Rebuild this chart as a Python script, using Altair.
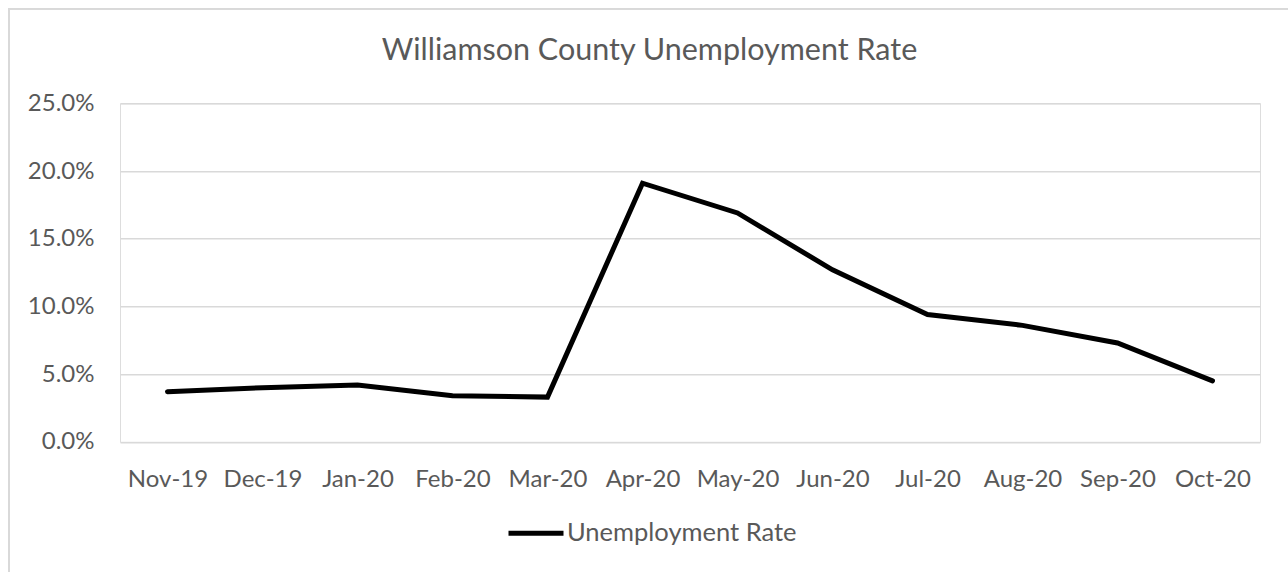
import altair as alt
import pandas as pd

months = ["Nov-19", "Dec-19", "Jan-20", "Feb-20", "Mar-20", "Apr-20",
          "May-20", "Jun-20", "Jul-20", "Aug-20", "Sep-20", "Oct-20"]
rates = [0.037, 0.040, 0.042, 0.034, 0.033, 0.191,
         0.169, 0.127, 0.094, 0.086, 0.073, 0.045]
series_name = "Unemployment Rate"
title_text = "Williamson County Unemployment Rate"
y_ticks = [0, 0.05, 0.10, 0.15, 0.20, 0.25]

df = pd.DataFrame({"Month": months, "Rate": rates, "Series": [series_name] * len(months)})

FONT = "Lato"
GRAY = "#595959"
W, H = 1140, 338.5

line = alt.Chart(df).mark_line(strokeWidth=5, strokeCap="round").encode(
    x=alt.X("Month:N", sort=months,
            scale=alt.Scale(type="point", padding=0.5),
            axis=alt.Axis(title=None, labelAngle=0, domain=False, ticks=False,
                          grid=False, labelPadding=26, labelFontSize=24,
                          labelFont=FONT, labelColor=GRAY)),
    y=alt.Y("Rate:Q", scale=alt.Scale(domain=[0, 0.25], nice=False),
            axis=alt.Axis(title=None, values=y_ticks, format=".1%", domain=False,
                          ticks=False, labelPadding=26, labelFontSize=24,
                          labelFont=FONT, labelColor=GRAY,
                          gridColor="#d9d9d9", gridWidth=1.5)),
    color=alt.Color("Series:N", scale=alt.Scale(range=["#000000"]),
                    legend=alt.Legend(title=None, orient="none", legendX=386, legendY=400,
                                      symbolType="stroke", symbolSize=3025,
                                      symbolStrokeWidth=5, labelFontSize=25.5,
                                      labelFont=FONT, labelColor=GRAY, labelLimit=600,
                                      labelOffset=1, padding=0)),
)

frame = alt.Chart(df).mark_rect(fillOpacity=0, stroke="#d9d9d9", strokeWidth=1.5).encode(
    x=alt.value(-111), x2=alt.value(1250), y=alt.value(-94.5), y2=alt.value(520)
)

title = alt.Chart(pd.DataFrame({"t": [title_text]})).mark_text(
    font=FONT, fontSize=30.5, color=GRAY, align="center", baseline="alphabetic"
).encode(text="t:N", x=alt.value(529.5), y=alt.value(-43.5))

chart = alt.layer(frame, line, title).properties(
    width=W, height=H,
    autosize=alt.AutoSizeParams(type="none"),
    padding={"left": 120, "top": 103.3, "right": 28, "bottom": 130.2},
).configure_view(stroke=None).configure(background="white")

chart.save("out.html", embed_options={"renderer": "svg", "actions": False})
